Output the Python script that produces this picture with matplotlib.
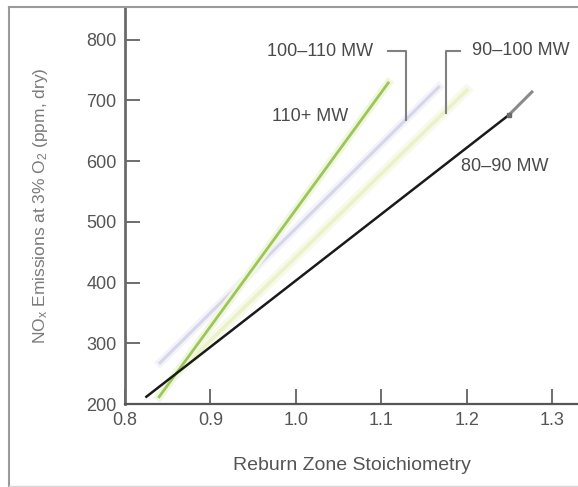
import matplotlib.pyplot as plt
from matplotlib.lines import Line2D

plt.rcParams['font.family'] = ['Liberation Sans', 'DejaVu Sans']
plt.rcParams['mathtext.default'] = 'regular'

# reburn zone stoichiometry vs NOx, one fitted line per load range
sr_80_90 = [0.825, 1.249]
nox_80_90 = [212, 676]
sr_80_90_tail = [1.249, 1.276]
nox_80_90_tail = [676, 714]

sr_90_100 = [0.861, 1.200]
nox_90_100 = [251, 717]

sr_100_110 = [0.841, 1.167]
nox_100_110 = [268, 722]

sr_110 = [0.840, 1.108]
nox_110 = [212, 729]

xticks = [0.8, 0.9, 1.0, 1.1, 1.2, 1.3]
xticklabels = ['0.8', '0.9', '1.0', '1.1', '1.2', '1.3']
yticks = [200, 300, 400, 500, 600, 700, 800]

fig = plt.figure(figsize=(5.78, 4.87), dpi=100)
ax = fig.add_axes([0.2163, 0.1704, 0.7837, 0.8152])

# faint halos under the coloured lines
ax.plot(sr_90_100, nox_90_100, color='#f7f9ea', lw=7)
ax.plot(sr_90_100, nox_90_100, color='#ebf2c8', lw=2.5)
ax.plot(sr_100_110, nox_100_110, color='#f3f3f9', lw=6)
ax.plot(sr_100_110, nox_100_110, color='#d6d6ea', lw=2.2)
ax.plot(sr_110, nox_110, color='#f1f7de', lw=6)
ax.plot(sr_110, nox_110, color='#9cc55a', lw=2.0)

ax.plot(sr_80_90, nox_80_90, color='#1a1a1a', lw=1.8)
ax.plot(sr_80_90_tail, nox_80_90_tail, color='#8a8a8a', lw=2.2)
ax.plot(sr_80_90_tail[:1], nox_80_90_tail[:1], 's', color='#6a6a6a', ms=3.5)

ax.set_xlim(0.8, 1.33)
ax.set_ylim(200, 854)
ax.set_xticks(xticks)
ax.set_xticklabels(xticklabels)
ax.set_yticks(yticks)

ax.tick_params(axis='both', direction='in', length=11, width=1.2,
               colors='#555555', labelsize=13, pad=6)

for side in ['top', 'right']:
    ax.spines[side].set_visible(False)
ax.spines['left'].set_color('#6a6a6a')
ax.spines['left'].set_linewidth(2)
ax.spines['bottom'].set_color('#555555')
ax.spines['bottom'].set_linewidth(1.6)

ax.set_xlabel('Reburn Zone Stoichiometry', fontsize=14, color='#555555')
ax.xaxis.set_label_coords(0.5, -0.1335)
ax.set_ylabel('NO$_x$ Emissions at 3% O$_2$ (ppm, dry)', fontsize=12.5,
              color='#7a7a7a')
ax.yaxis.set_label_coords(-0.165, 0.5)

# load range labels with bracket leaders
txt = dict(fontsize=13, color='#4a4a4a', ha='center', va='center')
ax.text(1.028, 780, '100–110 MW', **txt)
ax.text(1.263, 783, '90–100 MW', **txt)
ax.text(1.016, 673, '110+ MW', **txt)
ax.text(1.244, 592, '80–90 MW', **txt)
ax.plot([1.108, 1.129, 1.129], [781, 781, 668], color='#808080', lw=1.5)
ax.plot([1.192, 1.175, 1.175], [781, 781, 679], color='#808080', lw=1.5)

# outer frame
fig.add_artist(Line2D([0.0156, 0.0156], [0, 0.9856], color='#9a9a9a', lw=1.5))
fig.add_artist(Line2D([0.0156, 1], [0.9856, 0.9856], color='#9a9a9a', lw=1.5))
fig.add_artist(Line2D([0.0156, 1], [0.002, 0.002], color='#d8d8d8', lw=1))

fig.savefig('out.png', dpi=100)
